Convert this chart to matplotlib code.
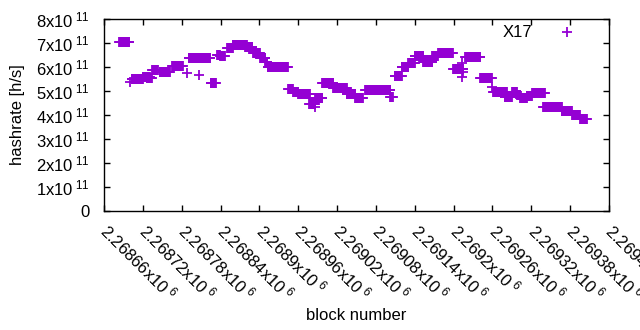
import numpy as np
import matplotlib
matplotlib.use("Agg")
import matplotlib.pyplot as plt

plt.rcParams['font.family'] = ['Liberation Sans', 'DejaVu Sans']
plt.rcParams['mathtext.fontset'] = 'custom'
plt.rcParams['mathtext.rm'] = 'Liberation Sans'
plt.rcParams['mathtext.it'] = 'Liberation Sans'

# runs of blocks sharing one hashrate estimate; block numbers are given from base_block
base_block = 2268660
seg_first = [23, 40, 43, 60, 66, 74, 86, 105, 128, 131, 147, 148, 165, 175, 179, 190, 199, 218,
             230, 241, 249, 253, 284, 292, 300, 317, 326, 326, 337, 354, 375, 388, 403, 442,
             449, 460, 470, 480, 493, 507, 516, 539, 553, 553, 555, 558, 581, 599, 601, 619,
             630, 638, 643, 653, 661, 678, 707, 723, 735]
seg_last = [39, 40, 60, 71, 74, 83, 102, 122, 128, 148, 147, 164, 173, 179, 187, 199, 221, 229,
            241, 249, 252, 284, 292, 300, 318, 326, 337, 326, 354, 375, 388, 400, 442, 446,
            460, 470, 480, 493, 507, 516, 539, 555, 553, 553, 555, 581, 599, 599, 622, 630,
            638, 643, 653, 661, 681, 707, 723, 735, 746]
seg_rate = [7.05, 5.36, 5.48, 5.60, 5.53, 5.87, 5.80, 6.04, 5.76, 6.36, 5.67, 6.36, 5.33,
            6.50, 6.45, 6.78, 6.90, 6.83, 6.60, 6.37, 6.20, 6.02, 5.07, 4.95, 4.87, 4.44,
            4.70, 4.33, 5.32, 5.11, 4.88, 4.70, 5.04, 4.76, 5.62, 6.02, 6.17, 6.46, 6.22,
            6.46, 6.57, 5.90, 6.15, 5.60, 5.80, 6.40, 5.53, 5.18, 4.97, 4.76, 4.97, 4.83,
            4.70, 4.79, 4.90, 4.35, 4.18, 3.99, 3.85]

xticks = [2268660 + 60 * i for i in range(14)]
xtick_text = ["2.26866", "2.26872", "2.26878", "2.26884", "2.2689", "2.26896", "2.26902",
              "2.26908", "2.26914", "2.2692", "2.26926", "2.26932", "2.26938", "2.26944"]
yticks = [0, 1e11, 2e11, 3e11, 4e11, 5e11, 6e11, 7e11, 8e11]

blocks = []
rates = []
for a, b, r in zip(seg_first, seg_last, seg_rate):
    for blk in range(a, b + 1):
        blocks.append(base_block + blk)
        rates.append(r * 1e11)

col = '#9400d3'
fig = plt.figure(figsize=(6.4, 3.3), dpi=100)
ax = fig.add_axes([104/640, 1 - 211/330, 505/640, 192/330])
ax.plot(blocks, rates, '+', color=col, ms=6.5, mew=1.3, clip_on=False)

ax.set_xlim(2268660, 2269440)
ax.set_ylim(0, 8e11)
ax.set_xticks(xticks)
ax.set_yticks(yticks)
ax.set_yticklabels(["0"] + ["%dx10$^{\\ 11}$" % i for i in range(1, 9)], fontsize=12)
ax.set_xticklabels([t + "x10$^{\\ 6}$" for t in xtick_text], fontsize=12,
                   rotation=-45, ha='left', va='center', rotation_mode='anchor')
ax.tick_params(direction='in', length=4, width=1, top=True, right=True, pad=10)
ax.tick_params(axis='x', pad=12)
for s in ax.spines.values():
    s.set_linewidth(1)

ax.set_xlabel("block number", fontsize=12, labelpad=3)
ax.set_ylabel("hashrate [h/s]", fontsize=12, labelpad=8)

ax.text(0.8475, 0.932, "X17", transform=ax.transAxes, ha='right', va='center', fontsize=12)
ax.plot([0.917], [0.932], '+', color=col, ms=6.5, mew=1.3, transform=ax.transAxes)

fig.savefig("out.png", dpi=100)
